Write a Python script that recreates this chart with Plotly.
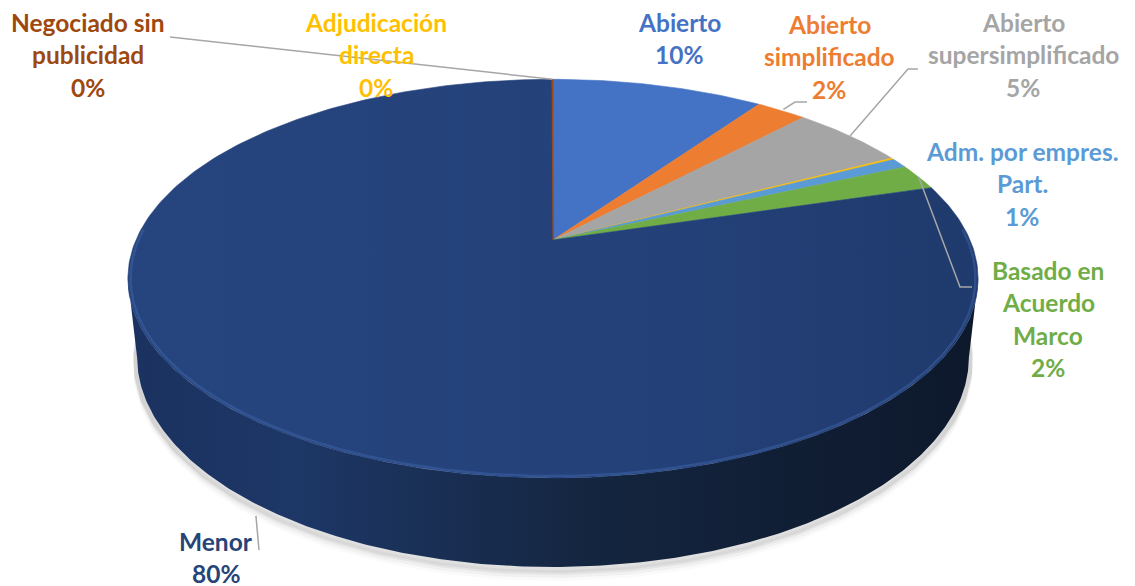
import numpy as np
import plotly.graph_objects as go

# ---------------- data ----------------
categories = ["Abierto", "Abierto simplificado", "Abierto supersimplificado",
              "Adjudicación directa", "Adm. por empres. Part.",
              "Basado en Acuerdo Marco", "Menor", "Negociado sin publicidad"]
values = [9.7, 2.3, 5.3, 0.15, 0.8, 2.1, 79.6, 0.05]

# ---------------- styles ----------------
colors = ["#4472C4", "#ED7D31", "#A5A5A5", "#FFC000", "#5B9BD5", "#70AD47", "#24417A", "#9E480E"]
label_colors = ["#4472C4", "#ED7D31", "#A5A5A5", "#FFC000", "#5B9BD5", "#70AD47", "#264478", "#9E480E"]
label_lines = {
    "Abierto": ["Abierto"],
    "Abierto simplificado": ["Abierto", "simplificado"],
    "Abierto supersimplificado": ["Abierto", "supersimplificado"],
    "Adjudicación directa": ["Adjudicación", "directa"],
    "Adm. por empres. Part.": ["Adm. por empres.", "Part."],
    "Basado en Acuerdo Marco": ["Basado en", "Acuerdo", "Marco"],
    "Menor": ["Menor"],
    "Negociado sin publicidad": ["Negociado sin", "publicidad"],
}
label_pos = {
    "Abierto": (679, 22),
    "Abierto simplificado": (829, 24),
    "Abierto supersimplificado": (1023, 22),
    "Adjudicación directa": (376, 22),
    "Adm. por empres. Part.": (1022, 151),
    "Basado en Acuerdo Marco": (1048, 270),
    "Menor": (216, 541),
    "Negociado sin publicidad": (88, 22),
}
# leader line: label-side points, radius and depth of the slice anchor
leaders = {
    "Negociado sin publicidad": ([(170, 37)], 1.0, 0.0),
    "Abierto simplificado": ([(807, 102), (795, 102)], 1.01, 0.0),
    "Abierto supersimplificado": ([(918, 69), (908, 69)], 1.0, 0.0),
    "Basado en Acuerdo Marco": ([(972, 287), (960, 287)], 1.0, 0.0),
    "Menor": ([(259, 550)], 1.03, None),
}
LINE_H = 32.5
FONT = "Lato"
FSIZE = 24.5

W, HGT = 1135, 586
PAGE_MARGIN = 8  # default body margin of the html page
# 3D projection parameters
CX, CY = 553, 240
F = 1910.0
S = 0.46
C = np.sqrt(1 - S * S)
D = 5.158 * C
DEPTH = 0.2127


def proj(phi, r=1.0, depth=0.0):
    x = r * np.sin(phi)
    z = r * np.cos(phi)
    v = z * S - depth * C
    w = D + z * C + depth * S
    return CX + F * x / w, CY - F * v / w


total = float(sum(values))
fr = np.array(values) / total
ends = np.cumsum(fr) * 2 * np.pi
starts = ends - fr * 2 * np.pi

fig = go.Figure()

# shadow under the pie
pa = np.arccos(-C / D)
ph = np.linspace(pa - 0.15, 2 * np.pi - pa + 0.15, 200)
for k, a in [(10, 0.02), (7, 0.035), (4, 0.05), (2, 0.07)]:
    sx, sy = proj(ph, 1.0, DEPTH)
    fig.add_trace(go.Scatter(x=sx, y=sy + k, mode="lines",
                             line=dict(color=f"rgba(0,0,0,{a})", width=8),
                             hoverinfo="skip"))

# side wall (only Menor visible in front)
ph = np.linspace(pa, 2 * np.pi - pa, 300)
tx, ty = proj(ph, 1.0, 0.0)
bx, by = proj(ph[::-1], 1.0, DEPTH)
fig.add_trace(go.Scatter(
    x=np.concatenate([tx, bx]), y=np.concatenate([ty, by]),
    mode="lines", fill="toself", line=dict(width=0, color="#142541"),
    fillgradient=dict(type="horizontal",
                      colorscale=[[0, "#1B3260"], [0.2, "#1D3766"], [0.55, "#14253F"], [1, "#0D182B"]]),
    hoverinfo="skip"))

# top face slices
for i, cat in enumerate(categories):
    n = max(3, int(fr[i] * 400))
    ph = np.linspace(starts[i], ends[i], n)
    ax, ay = proj(ph)
    x = np.concatenate([[CX], ax, [CX]])
    y = np.concatenate([[CY], ay, [CY]])
    kw = {}
    if cat == "Menor":
        kw["fillgradient"] = dict(type="horizontal",
                                  colorscale=[[0, "#26447D"], [0.6, "#24417A"], [1, "#1F3A6C"]])
    else:
        kw["fillcolor"] = colors[i]
    fig.add_trace(go.Scatter(x=x, y=y, mode="lines", fill="toself",
                             line=dict(width=0.6, color=colors[i]),
                             hoverinfo="skip", name=cat, **kw))

# soft bevel highlight on front rim
ph = np.linspace(pa - 0.25, 2 * np.pi - pa + 0.25, 300)
hx, hy = proj(ph, 0.994, 0.0)
fig.add_trace(go.Scatter(x=hx, y=hy, mode="lines",
                         line=dict(color="rgba(70,110,180,0.4)", width=2.5),
                         hoverinfo="skip"))

# leader lines
for cat, (pts, r, dep) in leaders.items():
    i = categories.index(cat)
    mid = (starts[i] + ends[i]) / 2
    ex, ey = proj(mid, r, DEPTH if dep is None else dep)
    xs = [p[0] for p in pts] + [float(ex)]
    ys = [p[1] for p in pts] + [float(ey)]
    fig.add_trace(go.Scatter(x=xs, y=ys, mode="lines",
                             line=dict(color="#A6A6A6", width=1.5),
                             hoverinfo="skip"))

# labels
annotations = []
for i, cat in enumerate(categories):
    lx, ly = label_pos[cat]
    lines = label_lines[cat] + [f"{fr[i] * 100:.0f}%"]
    for j, t in enumerate(lines):
        annotations.append(dict(
            x=lx, y=ly + j * LINE_H, xref="x", yref="y", text=t, showarrow=False,
            xanchor="center", yanchor="middle",
            font=dict(family=FONT, size=FSIZE, color=label_colors[i], weight="bold")))

fig.update_layout(
    width=W, height=HGT, margin=dict(l=0, r=0, t=0, b=0),
    paper_bgcolor="white", plot_bgcolor="white", showlegend=False,
    xaxis=dict(range=[PAGE_MARGIN, W + PAGE_MARGIN], visible=False, fixedrange=True),
    yaxis=dict(range=[HGT + PAGE_MARGIN, PAGE_MARGIN], visible=False, fixedrange=True),
    annotations=annotations,
)
fig.write_html("out.html")
